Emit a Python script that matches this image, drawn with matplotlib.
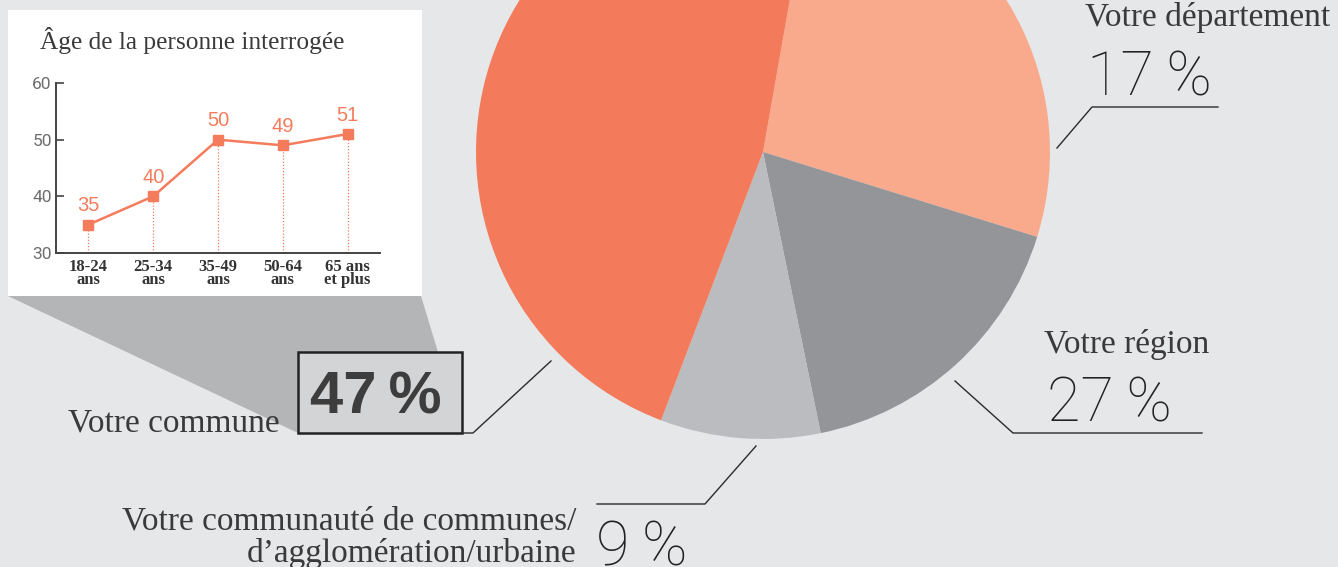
"""Pie of the preferred level plus inset line chart of age."""

import matplotlib.pyplot as plt
from matplotlib.lines import Line2D
from matplotlib.patches import Polygon, Rectangle

# pie slices as drawn, clockwise from the top
pie_shares = [27, 17, 9, 47]
pie_colors = ["#f9aa8d", "#949598", "#bbbcbf", "#f37a5a"]

# labels printed next to the slices
label_names = [
    "Votre commune",
    "Votre département",
    "Votre région",
    "Votre communauté de communes/\nd’agglomération/urbaine",
]
label_values = ["47\u2009%", "17\u2009%", "27\u2009%", "9\u2009%"]

# inset: age of the respondent
age_groups = ["18-24\nans", "25-34\nans", "35-49\nans", "50-64\nans", "65 ans\net plus"]
age_values = [35, 40, 50, 49, 51]
age_ticks = [30, 40, 50, 60]

W, H = 1338, 567
BG = "#e6e7e9"
ORANGE = "#f47c5c"
SERIF = "Liberation Serif"
THIN = "Roboto"
TEXT = "#3a3a3a"


def fx(x):
    return x / W


def fy(y):
    return 1 - y / H


def leader(fig, pts):
    xs = [fx(p[0]) for p in pts]
    ys = [fy(p[1]) for p in pts]
    fig.add_artist(Line2D(xs, ys, color="#2b2b2b", lw=1.0, transform=fig.transFigure))


def main():
    fig = plt.figure(figsize=(W / 100, H / 100), dpi=100, facecolor=BG)

    # pie, center (763, 152), radius 287 px
    r = 287
    ax = fig.add_axes([fx(763 - r), fy(152 + r), 2 * r / W, 2 * r / H])
    ax.pie(pie_shares, colors=pie_colors, startangle=80, counterclock=False,
           radius=1, wedgeprops=dict(linewidth=0))
    ax.set_xlim(-1, 1)
    ax.set_ylim(-1, 1)
    ax.set_aspect("equal")
    ax.axis("off")

    # grey funnel from inset to the 47 % box
    fig.add_artist(Polygon(
        [(fx(8), fy(296)), (fx(421), fy(296)), (fx(438), fy(352)),
         (fx(438), fy(433)), (fx(298), fy(433))],
        closed=True, facecolor="#b4b5b7", edgecolor="none",
        transform=fig.transFigure, zorder=1))

    # inset white card
    fig.add_artist(Rectangle((fx(8), fy(296)), 414 / W, 286 / H,
                             facecolor="white", edgecolor="none",
                             transform=fig.transFigure, zorder=1))
    fig.text(fx(40), fy(49), "Âge de la personne interrogée", family=SERIF,
             fontsize=18.3, color=TEXT, va="baseline", zorder=3)

    ia = fig.add_axes([fx(56), fy(253), 324 / W, 170 / H], zorder=3)
    ia.patch.set_alpha(0)
    xs = list(range(len(age_values)))
    ia.plot(xs, age_values, color=ORANGE, lw=1.8, marker="s", ms=6.5,
            solid_joinstyle="miter", clip_on=False)
    for x, v in zip(xs, age_values):
        ia.vlines(x, age_ticks[0], v, color=ORANGE, lw=0.9, linestyles=(0, (1, 1.5)))
        ia.annotate(str(v), (x, v), xytext=(0, 9.5), textcoords="offset points",
                    ha="center", va="baseline", color=ORANGE,
                    family="Liberation Sans", fontsize=14.5)
    ia.set_xlim(-0.5, 4.5)
    ia.set_ylim(age_ticks[0], age_ticks[-1])
    ia.set_yticks(age_ticks)
    ia.set_xticks(xs)
    ia.set_xticklabels(age_groups, family=SERIF, fontweight="bold",
                       fontsize=12, color="#333333", linespacing=0.8)
    for t in ia.get_yticklabels():
        t.set_family(THIN)
        t.set_fontsize(12.5)
        t.set_color("#6e6e6e")
    ia.tick_params(axis="y", direction="in", length=6, width=1.2,
                   color="#444444", pad=3)
    ia.tick_params(axis="x", length=0, pad=4)
    for s in ("top", "right"):
        ia.spines[s].set_visible(False)
    for s in ("left", "bottom"):
        ia.spines[s].set_color("#444444")
        ia.spines[s].set_linewidth(1.4)

    # 47 % box
    fig.add_artist(Rectangle((fx(298), fy(433)), 164 / W, 81 / H,
                             facecolor="#d3d4d6", edgecolor="#222222", lw=1.8,
                             transform=fig.transFigure, zorder=2))
    fig.text(fx(310), fy(413), label_values[0], family="Liberation Sans",
             fontweight="bold", fontsize=43, color="#3d3d3d", va="baseline",
             zorder=3)
    fig.text(fx(68), fy(431), label_names[0], family=SERIF, fontsize=24,
             color=TEXT, va="baseline", zorder=3)
    leader(fig, [(462, 433), (473, 433), (551, 361)])

    # département
    fig.text(fx(1085), fy(26), label_names[1], family=SERIF, fontsize=24,
             color=TEXT, va="baseline")
    fig.text(fx(1087), fy(96), label_values[1], family=THIN, fontweight="light",
             fontsize=44, color="#222222", va="baseline")
    leader(fig, [(1057, 148), (1092, 107), (1218, 107)])

    # région
    fig.text(fx(1044), fy(353), label_names[2], family=SERIF, fontsize=24,
             color=TEXT, va="baseline")
    fig.text(fx(1047), fy(421), label_values[2], family=THIN, fontweight="light",
             fontsize=44, color="#222222", va="baseline")
    leader(fig, [(955, 381), (1013, 433), (1202, 433)])

    # communauté
    lines = label_names[3].split("\n")
    fig.text(fx(576), fy(530), lines[0], family=SERIF, fontsize=24,
             color=TEXT, va="baseline", ha="right")
    fig.text(fx(576), fy(562), lines[1], family=SERIF, fontsize=24,
             color=TEXT, va="baseline", ha="right")
    fig.text(fx(596), fy(566), label_values[3], family=THIN, fontweight="light",
             fontsize=44, color="#222222", va="baseline")
    leader(fig, [(597, 504), (705, 504), (756, 446)])

    fig.savefig("out.png", dpi=100, facecolor=BG)


if __name__ == "__main__":
    main()
